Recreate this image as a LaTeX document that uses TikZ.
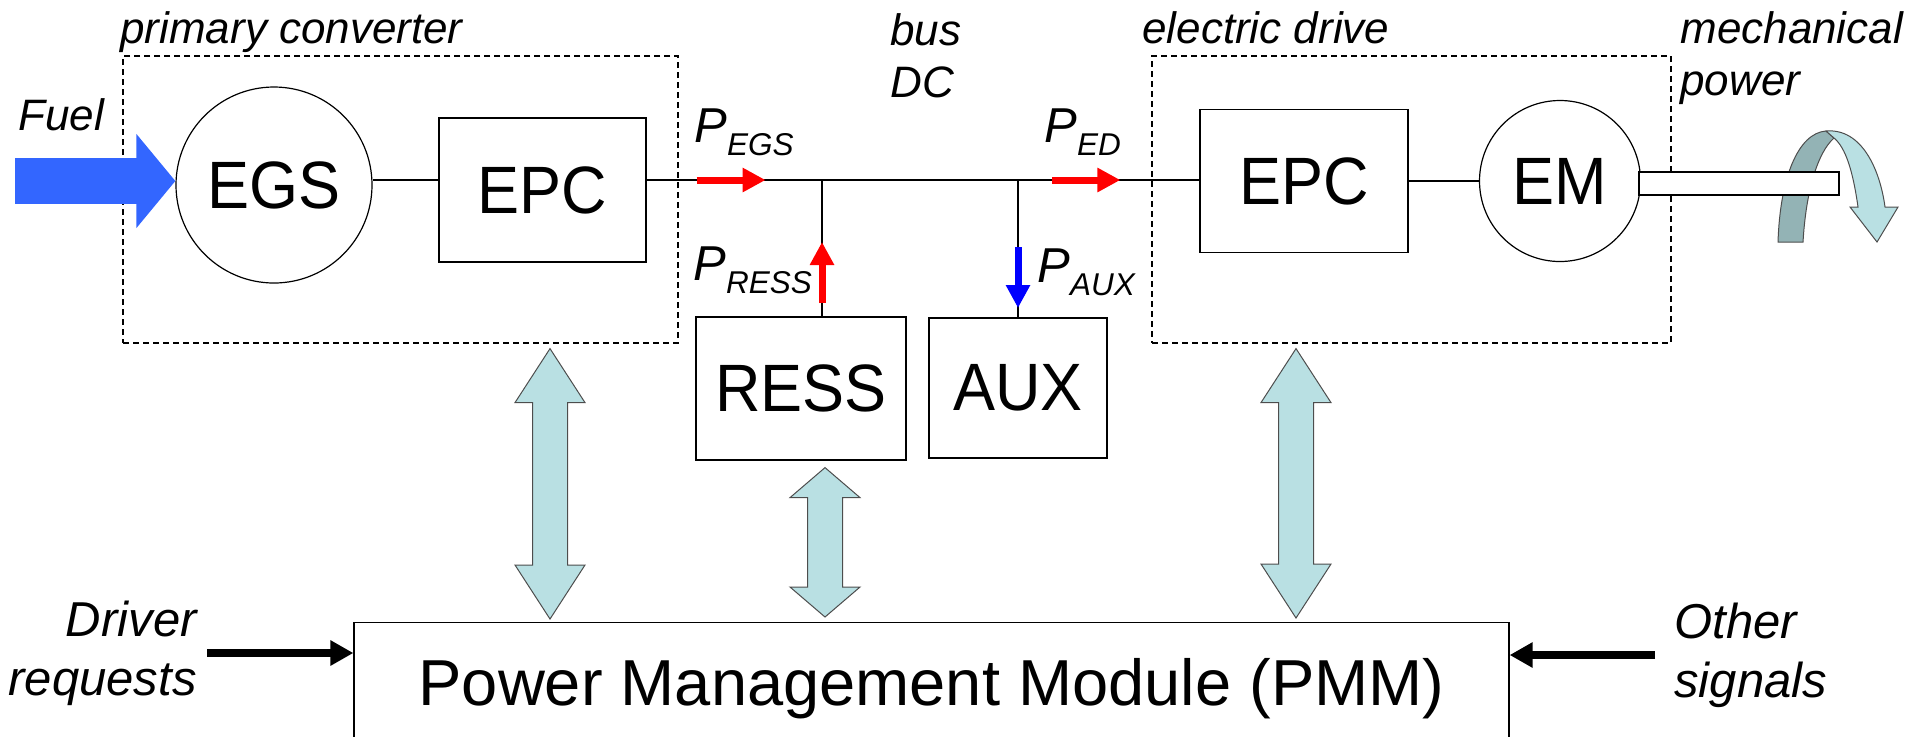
\documentclass[tikz,border=0pt]{standalone}
\usepackage{fontspec}
\setmainfont{Liberation Sans}
\newfontfamily\unitfam{Liberation Sans}[FakeStretch=0.94]
\usetikzlibrary{arrows.meta,calc,positioning}
\definecolor{fuelblue}{HTML}{3366FF}
\definecolor{linkfill}{HTML}{B9E0E3}
\definecolor{linkedge}{HTML}{4D4D4D}
\definecolor{spinback}{HTML}{93B3B5}
\newcommand{\unitfont}{\unitfam\fontsize{33.5}{38}\selectfont}
\newcommand{\pmmfont}{\fontsize{32.5}{38}\selectfont}
\newcommand{\notefont}{\fontsize{22}{26}\selectfont\itshape}
\newcommand{\sigfont}{\fontsize{24.5}{29.5}\selectfont\itshape}
\newcommand{\Pflow}[1]{{\fontsize{24.5}{28}\selectfont\itshape P}\raisebox{-6.5pt}{\fontsize{15.75}{18}\selectfont\itshape #1}}
% thick two-headed link: top point, bottom point, head length
\newcommand{\linkarrow}[3]{%
  \draw[link] let \p1=(#1), \p2=(#2) in
    (\x1,\y1) -- (\x1+17.5pt,\y1-#3) -- (\x1+8.75pt,\y1-#3) -- (\x1+8.75pt,\y2+#3)
    -- (\x1+17.5pt,\y2+#3) -- (\x1,\y2) -- (\x1-17.5pt,\y2+#3) -- (\x1-8.75pt,\y2+#3)
    -- (\x1-8.75pt,\y1-#3) -- (\x1-17.5pt,\y1-#3) -- cycle;}

\begin{document}
\begin{tikzpicture}[
  x=0.5pt, y=-0.5pt,
  box/.style={draw, line width=0.6pt, inner sep=0pt, font=\unitfont},
  mach/.style={circle, draw, line width=0.6pt, inner sep=0pt, font=\unitfont},
  group/.style={draw, dash pattern=on 3pt off 2pt, line width=0.6pt, inner sep=0pt},
  note/.style={inner sep=0pt, font=\notefont, align=left},
  sig/.style={inner sep=0pt, font=\sigfont},
  plab/.style={inner sep=0pt, anchor=base west},
  wire/.style={line width=0.6pt},
  pflow/.style={line width=3.5pt, -{Triangle[length=11.5pt,width=11.5pt]}},
  sigarr/.style={line width=4pt, -{Triangle[length=11.5pt,width=12pt]}},
  link/.style={fill=linkfill, draw=linkedge, line width=0.5pt},
  spin/.style={draw=linkedge, line width=0.5pt}
]
\useasboundingbox (0,0) rectangle (1915,736);

% groups
\node[group, minimum width=277.5pt, minimum height=143.5pt] (pc) at (400.5,199.5) {};
\node[group, minimum width=259.5pt, minimum height=143.5pt] (ed) at (1411.5,199.5) {};
\node[note, anchor=base west] (pclab) at (120,43) {primary converter};
\node[note, anchor=base west] (edlab) at (1142,43) {electric drive};
\node[note, anchor=north west] (bus) at (890,13) {bus\\DC};
\node[note, anchor=north west] (mech) at (1680,11) {mechanical\\power};
\node[note, anchor=base west] (fuel) at (18,130) {Fuel};

% units
\node[mach, minimum size=98pt] (EGS) at (274,185) {EGS};
\node[box, minimum width=103.5pt, minimum height=72pt] (EPC1) at (542.5,190) {EPC};
\node[box, minimum width=104pt, minimum height=71.5pt] (EPC2) at (1304,181) {EPC};
\node[mach, minimum size=80.5pt] (EM) at (1560,181) {EM};
\node[box, minimum width=105pt, minimum height=71.5pt] (RESS) at (801,388.5) {RESS};
\node[box, minimum width=89pt, minimum height=70pt] (AUX) at (1018,388) {AUX};
\node[box, minimum width=577.5pt, minimum height=66pt, anchor=north, font=\pmmfont] (pmm) at (931.5,622) {Power Management Module (PMM)};
\node[sig, anchor=east, align=right] (drv) at (197,653) {Driver\\requests};
\node[sig, anchor=west, align=left] (oth) at (1674,655) {Other\\signals};

% bus
\coordinate (fuel0) at (15,181);
\coordinate (jR) at (822,180);
\coordinate (jA) at (AUX.north |- jR);
\draw[wire] (EGS.east |- jR) -- (EPC1.west |- jR);
\draw[wire] (EPC1.east |- jR) -- (EPC2.west |- jR);
\draw[wire] (EPC2.east) -- (EM.west);
\draw[wire] (jR) -- (jR |- RESS.north);
\draw[wire] (jA) -- (AUX.north);
\draw[line width=23pt, fuelblue, -{Triangle[length=19.5pt,width=46pt]}] (fuel0) -- (EGS.west |- fuel0);

% power flows
\draw[pflow, red] ($(EPC1.east |- jR)+(50,0)$) -- +(69,0);
\draw[pflow, red] ($(EPC2.west |- jR)+(-147,0)$) -- +(68,0);
\draw[pflow, red] ($(jR)+(0,123)$) -- ($(jR)+(0,62)$);
\draw[pflow, blue] ($(jA)+(0,67)$) -- ($(jA)+(0,128)$);
\node[plab] (pegs) at (694,142) {\Pflow{EGS}};
\node[plab] (ped) at (1044,142) {\Pflow{ED}};
\node[plab] (press) at (693,280) {\Pflow{RESS}};
\node[plab] (paux) at (1037,282) {\Pflow{AUX}};

% shaft and rotation
\filldraw[spin, fill=spinback] (1778,242) .. controls (1780,178) and (1798,133) .. (1826,131)
  -- (1834,138) .. controls (1818,152) and (1806,190) .. (1803,242) -- cycle;
\draw[wire, fill=white] (1639,172) rectangle (1839,195);
\filldraw[spin, fill=linkfill] (1826,131) .. controls (1862,128) and (1880,170) .. (1885,207)
  -- (1898,207) -- (1877,242) -- (1850,207) -- (1858,207)
  .. controls (1853,172) and (1846,148) .. (1834,138) -- cycle;

% control links
\coordinate (lnk1) at (550,0);
\coordinate (lnk2) at (825,0);
\coordinate (lnk3) at (1296,0);
\linkarrow{$(lnk1 |- pc.south)+(0,5)$}{$(lnk1 |- pmm.north)+(0,-3)$}{27pt}
\linkarrow{$(lnk2 |- RESS.south)+(0,7)$}{$(lnk2 |- pmm.north)+(0,-5)$}{15pt}
\linkarrow{$(lnk3 |- ed.south)+(0,5)$}{$(lnk3 |- pmm.north)+(0,-4)$}{27pt}
\draw[sigarr, shorten <=5pt] (drv.east) -- (drv.east -| pmm.west);
\draw[sigarr, shorten <=9.5pt] (oth.west) -- (oth.west -| pmm.east);
\end{tikzpicture}
\end{document}
